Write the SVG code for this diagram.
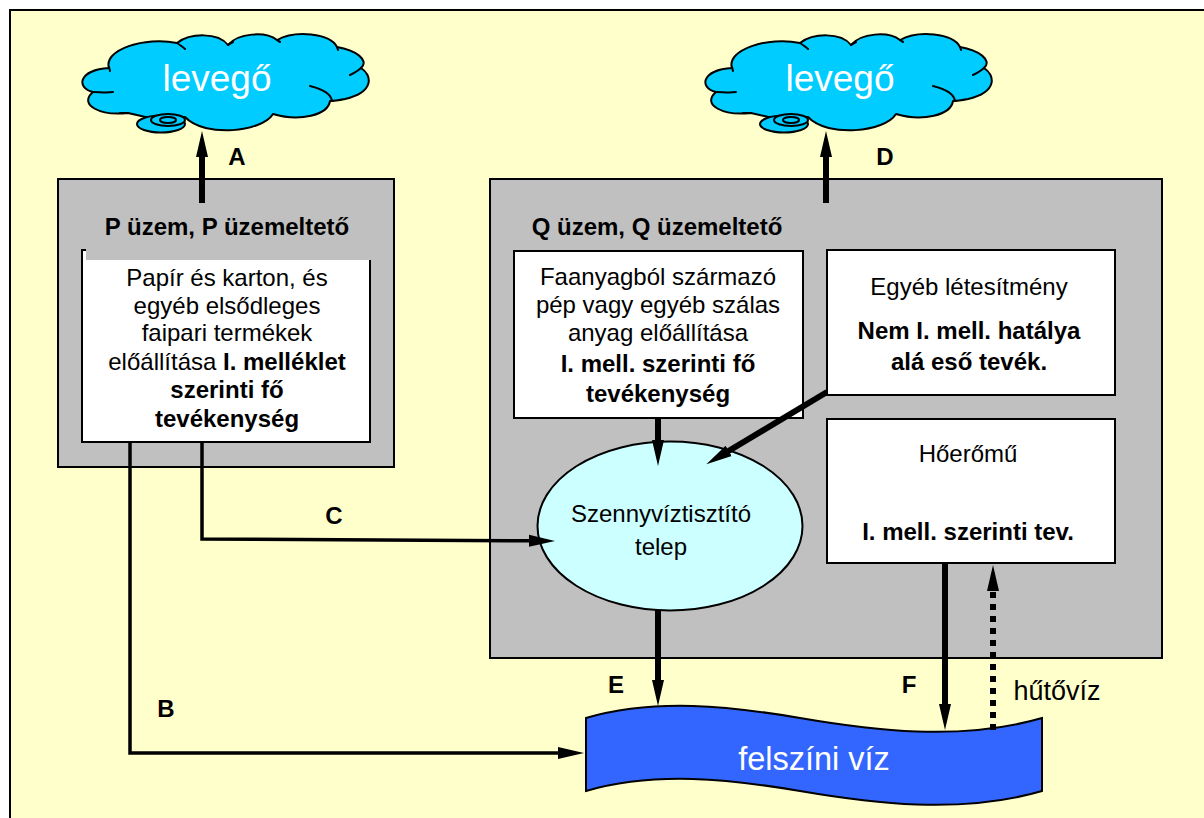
<svg xmlns="http://www.w3.org/2000/svg" width="1204" height="818" viewBox="0 0 1204 818">
<style>
text{font-family:"Liberation Sans",Arial,sans-serif;font-size:24px;fill:#000;text-anchor:middle}
.b{font-weight:bold}
.box{fill:#fff;stroke:#000;stroke-width:2}
.plant{fill:#c0c0c0;stroke:#000;stroke-width:2}
.cloud{fill:#00ccff;stroke:#000;stroke-width:2;stroke-linejoin:round}
.cl{fill:none;stroke:#000;stroke-width:2;stroke-linecap:round}
.w{fill:#fff;font-size:37px}
.arrow{fill:none;stroke:#000;stroke-linejoin:miter}
</style>
<defs>
<marker id="head" markerUnits="userSpaceOnUse" markerWidth="28" markerHeight="14" refX="6" refY="6" orient="auto" viewBox="0 0 28 12"><path d="M0 0L26 6L0 12Z" fill="#000"/></marker>
<g id="cloudshape">
<path class="cloud" d="M109 68C103 50 145 36 177 43C190 33 218 32 228 45C238 33 265 31 277 40C295 30 330 33 337 47C355 50 370 60 361 68C372 75 375 92 345 99C340 100 335 101 330 101C328 115 300 122 273 114C262 132 205 138 185 117L150 118L128 113C100 116 78 105 93 92C76 88 78 70 109 68Z"/>
<path class="cl" d="M177 43C180 45 183 47 185 49M228 45C229 44 231 43 233 42M277 40C278 41 279 41 280 42M337 47L338 50M361 68C358 71 354 73 350 75M310 86C322 89 331 94 332 101M93 92C100 92 106 93 113 92M109 67L110 71M120 113L128 113"/>
<ellipse class="cloud" cx="161" cy="124" rx="24" ry="8.500"/>
<ellipse class="cloud" cx="168" cy="120" rx="17" ry="6"/>
<ellipse class="cloud" cx="168" cy="120" rx="8" ry="3"/>
</g>
</defs>
<rect x="10" y="10" width="1200" height="815" fill="#ffffcc" stroke="#000" stroke-width="2"/>
<g id="plant-p">
<rect class="plant" x="58" y="179" width="336" height="288"/>
<text class="b" x="227" y="235">P üzem, P üzemeltető</text>
</g>
<g id="plant-q">
<rect class="plant" x="490" y="179" width="672" height="479"/>
<text class="b" x="657" y="235">Q üzem, Q üzemeltető</text>
</g>
<g id="cloud-a"><use href="#cloudshape"/><text class="w" x="217" y="91">levegő</text></g>
<g id="cloud-d"><use href="#cloudshape" x="623"/><text class="w" x="840" y="91">levegő</text></g>
<g id="box-p">
<rect class="box" x="82" y="250" width="288" height="192"/>
<rect x="86" y="249" width="286" height="11" fill="#c0c0c0"/>
<text x="227" y="286">Papír és karton, és</text>
<text x="227" y="314">egyéb elsődleges</text>
<text x="227" y="341">faipari termékek</text>
<text x="227" y="370">előállítása <tspan class="b">I. melléklet</tspan></text>
<text class="b" x="227" y="398">szerinti fő</text>
<text class="b" x="227" y="427">tevékenység</text>
</g>
<g id="box-pulp">
<rect class="box" x="514" y="251" width="289" height="167"/>
<text x="658" y="285">Faanyagból származó</text>
<text x="658" y="313">pép vagy egyéb szálas</text>
<text x="658" y="341">anyag előállítása</text>
<text class="b" x="658" y="372">I. mell. szerinti fő</text>
<text class="b" x="658" y="402">tevékenység</text>
</g>
<g id="box-other">
<rect class="box" x="827" y="250" width="288" height="145"/>
<text x="969" y="295">Egyéb létesítmény</text>
<text class="b" x="969" y="339">Nem I. mell. hatálya</text>
<text class="b" x="969" y="370">alá eső tevék.</text>
</g>
<g id="box-power">
<rect class="box" x="827" y="419" width="288" height="144"/>
<text x="968" y="462">Hőerőmű</text>
<text class="b" x="968" y="540">I. mell. szerinti tev.</text>
</g>
<g id="wwtp">
<ellipse cx="670" cy="526" rx="132.500" ry="84.500" fill="#ccffff" stroke="#000" stroke-width="2"/>
<text x="661" y="522">Szennyvíztisztító</text>
<text x="661" y="555">telep</text>
</g>
<g id="water">
<path d="M586 718C655 698 730 706 800 718C870 730 960 742 1042 718V791C960 815 870 803 800 791C730 779 655 771 586 791Z" fill="#3366ff" stroke="#000" stroke-width="2"/>
<text x="814" y="770" style="fill:#fff;font-size:32.500px">felszíni víz</text>
</g>
<g id="connectors">
<path class="arrow" stroke-width="6" marker-end="url(#head)" d="M202 203V151"/>
<path class="arrow" stroke-width="6" marker-end="url(#head)" d="M826 203V151"/>
<path class="arrow" stroke-width="3.500" marker-end="url(#head)" d="M202 442V539L535 540.800"/>
<path class="arrow" stroke-width="3.500" marker-end="url(#head)" d="M130 442V753H564"/>
<path class="arrow" stroke-width="6" marker-end="url(#head)" d="M658 418V446"/>
<path class="arrow" stroke-width="6" marker-end="url(#head)" d="M827 392L723.500 454"/>
<path class="arrow" stroke-width="6" marker-end="url(#head)" d="M658 610V686"/>
<path class="arrow" stroke-width="6" marker-end="url(#head)" d="M945 563V710"/>
<path class="arrow" stroke-width="6" stroke-dasharray="6 6" marker-end="url(#head)" d="M993 730V585"/>
</g>
<g id="labels">
<text class="b" x="237" y="165">A</text>
<text class="b" x="885" y="165">D</text>
<text class="b" x="166" y="717">B</text>
<text class="b" x="334" y="524">C</text>
<text class="b" x="616" y="693">E</text>
<text class="b" x="909" y="693">F</text>
<text x="1057" y="700" style="font-size:27px">hűtővíz</text>
</g>
</svg>
